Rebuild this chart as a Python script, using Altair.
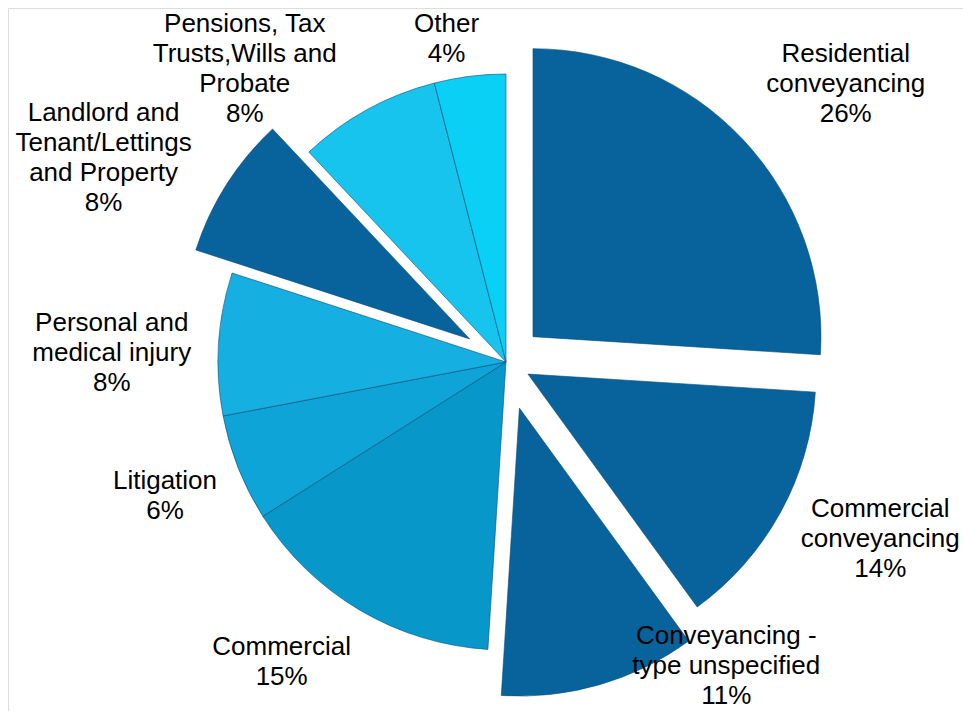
import altair as alt
import pandas as pd

# ---- data ----
categories = [
    "Residential\nconveyancing",
    "Commercial\nconveyancing",
    "Conveyancing -\ntype unspecified",
    "Commercial",
    "Litigation",
    "Personal and\nmedical injury",
    "Landlord and\nTenant/Lettings\nand Property",
    "Pensions, Tax\nTrusts,Wills and\nProbate",
    "Other",
]
shares = [26, 14, 11, 15, 6, 8, 8, 8, 4]

# ---- styles / layout ----
slice_colors = ["#08629c", "#08629c", "#08629c", "#0897c9", "#0fa4d7",
                "#16afe2", "#08629c", "#16c4ee", "#0bd0f5"]
explode_px = [37, 25, 48, 0, 0, 0, 43, 0, 0]
label_dx = [70, 50, 117, -36, 3, -25, -90, -83, -13]
label_dy = [-25, -1, -51, -18, -2, 14, -6, 31, 44]

CX, CY, R, LR = 498, 354, 288, 370
FS, LH = 26, 30

df = pd.DataFrame({
    "order": list(range(len(shares))),
    "category": categories,
    "share": shares,
    "txt": [f"{c}\n{s}%" for c, s in zip(categories, shares)],
    "nl": [c.count("\n") + 2 for c in categories],
    "color": slice_colors,
    "explode": explode_px,
    "ldx": label_dx,
    "ldy": label_dy,
})

base = (
    alt.Chart(df)
    .transform_window(cum="sum(share)", sort=[alt.SortField("order")], frame=[None, 0])
    .transform_joinaggregate(total="sum(share)")
    .transform_calculate(
        t0="2*PI*(datum.cum - datum.share)/datum.total",
        t1="2*PI*datum.cum/datum.total",
    )
    .transform_calculate(mid="(datum.t0 + datum.t1)/2")
    .transform_calculate(
        cx=f"{CX} + datum.explode*sin(datum.mid)",
        cy=f"{CY} - datum.explode*cos(datum.mid)",
        lx=f"{CX} + {LR}*sin(datum.mid) + datum.ldx",
        ly=f"{CY} - {LR}*cos(datum.mid) + datum.ldy - (datum.nl - 1)*{LH}/2",
    )
)

arcs = base.mark_arc(outerRadius=R, stroke="#0a4f7a", strokeWidth=1, strokeOpacity=0.6).encode(
    theta=alt.Theta("t0:Q", scale=None),
    theta2="t1:Q",
    x=alt.X("cx:Q", scale=None, axis=None),
    y=alt.Y("cy:Q", scale=None, axis=None),
    color=alt.Color("color:N", scale=None),
    order=alt.Order("order:Q"),
)

labels = base.mark_text(
    font="Liberation Sans", fontSize=FS, lineHeight=LH, lineBreak="\n",
    align="center", baseline="middle", color="black",
).encode(
    x=alt.X("lx:Q", scale=None, axis=None),
    y=alt.Y("ly:Q", scale=None, axis=None),
    text="txt:N",
)

chart = (
    alt.layer(arcs, labels)
    .properties(width=955, height=703, padding=0, autosize=alt.AutoSizeParams(type="none"))
    .configure_view(stroke=None)
    .configure(background="white")
)

chart.save("out.html", embed_options={"renderer": "svg", "actions": False})
